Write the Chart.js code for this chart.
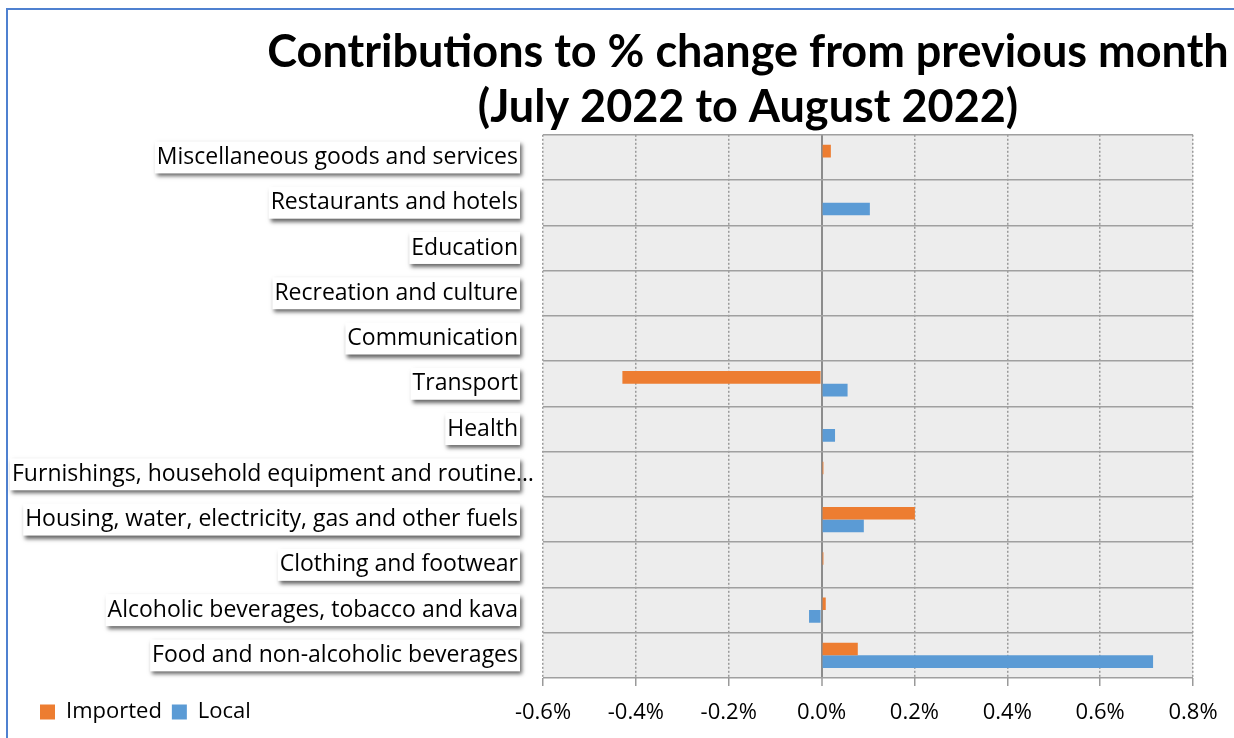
<!DOCTYPE html>
<html><head><meta charset="utf-8">
<script src="https://cdn.jsdelivr.net/npm/chart.js@4/dist/chart.umd.min.js"></script>
<style>
html,body{margin:0;padding:0;background:#fff;}
#wrap{position:relative;width:1234px;height:738px;overflow:hidden;}
#frame{position:absolute;left:6px;top:8px;width:2000px;height:2000px;border-left:2px solid #4F81D0;border-top:2px solid #4F81D0;}
#c{position:absolute;left:0;top:0;}
</style></head><body>
<div id="wrap"><div id="frame"></div><canvas id="c" width="1234" height="738"></canvas></div>
<script>
const categories = [
  'Miscellaneous goods and services',
  'Restaurants and hotels',
  'Education',
  'Recreation and culture',
  'Communication',
  'Transport',
  'Health',
  'Furnishings, household equipment and routine…',
  'Housing, water, electricity, gas and other fuels',
  'Clothing and footwear',
  'Alcoholic beverages, tobacco and kava',
  'Food and non-alcoholic beverages'
];
const importedValues = [0.020, 0, 0, 0, 0, -0.429, 0, 0.004, 0.201, 0.004, 0.009, 0.078];
const localValues    = [0, 0.104, 0, 0, 0, 0.056, 0.029, 0, 0.091, 0, -0.027, 0.714];
const seriesNames = ['Imported', 'Local'];
const titleLines = ['Contributions to % change from previous month', '(July 2022 to August 2022)'];
const xMin = -0.6, xMax = 0.8, xStep = 0.2;

const TITLE_FONT = 'Lato';
const FONT = 'Open Sans';

const plotBg = {
  id: 'plotBg',
  beforeDraw(chart) {
    const a = chart.chartArea, ctx = chart.ctx;
    ctx.save();
    ctx.fillStyle = '#EDEDED';
    ctx.fillRect(a.left, a.top, a.right - a.left, a.bottom - a.top);
    ctx.restore();
  }
};

const layoutTweak = {
  id: 'layoutTweak',
  afterLayout(chart) {
    const t = chart.titleBlock;
    if (t) { t.left = 262; t.right = 1234; t.width = 972; }
    const s = chart.scales.x;
    s.bottom = chart.height;
    s.height = s.bottom - s.top;
  }
};

const labelBoxes = {
  id: 'labelBoxes',
  afterDraw(chart) {
    const y = chart.scales.y, ctx = chart.ctx;
    ctx.save();
    ctx.font = '23px "' + FONT + '"';
    ctx.textBaseline = 'middle';
    categories.forEach((t, i) => {
      const py = y.getPixelForValue(i);
      const w = ctx.measureText(t).width;
      const right = 518, minLeft = 12;
      let tx = right - w;
      if (tx < minLeft) tx = minLeft;
      const bx = tx - 2;
      const bw = Math.min(tx + w + 2, 520) - bx;
      ctx.shadowColor = 'rgba(0,0,0,0.6)';
      ctx.shadowBlur = 4;
      ctx.shadowOffsetX = 2;
      ctx.shadowOffsetY = 3;
      ctx.fillStyle = '#ffffff';
      ctx.fillRect(bx, py - 16, bw, 32);
      ctx.shadowColor = 'transparent';
      ctx.shadowBlur = 0; ctx.shadowOffsetX = 0; ctx.shadowOffsetY = 0;
      ctx.fillStyle = '#000000';
      ctx.fillText(t, tx, py);
    });
    ctx.restore();
  }
};

const isZero = (c) => c && c.tick && Math.abs(c.tick.value) < 1e-9;

new Chart(document.getElementById('c'), {
  type: 'bar',
  data: {
    labels: categories,
    datasets: [
      { label: seriesNames[0], data: importedValues, backgroundColor: '#ED7D31', borderWidth: 0 },
      { label: seriesNames[1], data: localValues, backgroundColor: '#5B9BD5', borderWidth: 0 }
    ]
  },
  options: {
    indexAxis: 'y',
    responsive: false,
    animation: false,
    devicePixelRatio: 1,
    categoryPercentage: 0.56,
    barPercentage: 1.0,
    layout: { padding: { left: 30, right: 41, top: 10, bottom: 5 } },
    plugins: {
      title: {
        display: true,
        text: titleLines,
        color: '#000',
        font: { family: TITLE_FONT, size: 45, weight: 'bold', lineHeight: 1.22 },
        padding: { top: 15, bottom: 0 }
      },
      legend: {
        display: true,
        position: 'bottom',
        align: 'start',
        labels: {
          color: '#000',
          font: { family: FONT, size: 22 },
          boxWidth: 15,
          boxHeight: 15,
          padding: 10
        }
      },
      tooltip: { enabled: false }
    },
    scales: {
      x: {
        type: 'linear',
        min: xMin,
        max: xMax,
        afterFit(s) { s.height = 13; },
        ticks: {
          stepSize: xStep,
          color: '#000',
          font: { family: FONT, size: 22 },
          padding: 14,
          callback: (v) => (Math.abs(v) < 1e-9 ? 0 : v).toFixed(1) + '%'
        },
        grid: {
          color: (c) => isZero(c) ? '#8C8C8C' : '#9A9A9A',
          lineWidth: (c) => isZero(c) ? 2 : 1.5,
          borderDash: (c) => isZero(c) ? [] : [2, 2],
          drawTicks: true,
          tickLength: 8,
          tickColor: '#9A9A9A',
          tickWidth: 1.5,
          tickBorderDash: []
        },
        border: {
          display: false,
          dash: (c) => (c && c.tick) ? (isZero(c) ? [] : [2, 2]) : []
        }
      },
      y: {
        type: 'category',
        afterFit(s) { s.width = 513; },
        ticks: { display: false },
        grid: {
          color: '#A0A0A0',
          lineWidth: 1.5,
          offset: true,
          drawTicks: false
        },
        border: { display: false }
      }
    }
  },
  plugins: [plotBg, layoutTweak, labelBoxes]
});
</script>
</body></html>
